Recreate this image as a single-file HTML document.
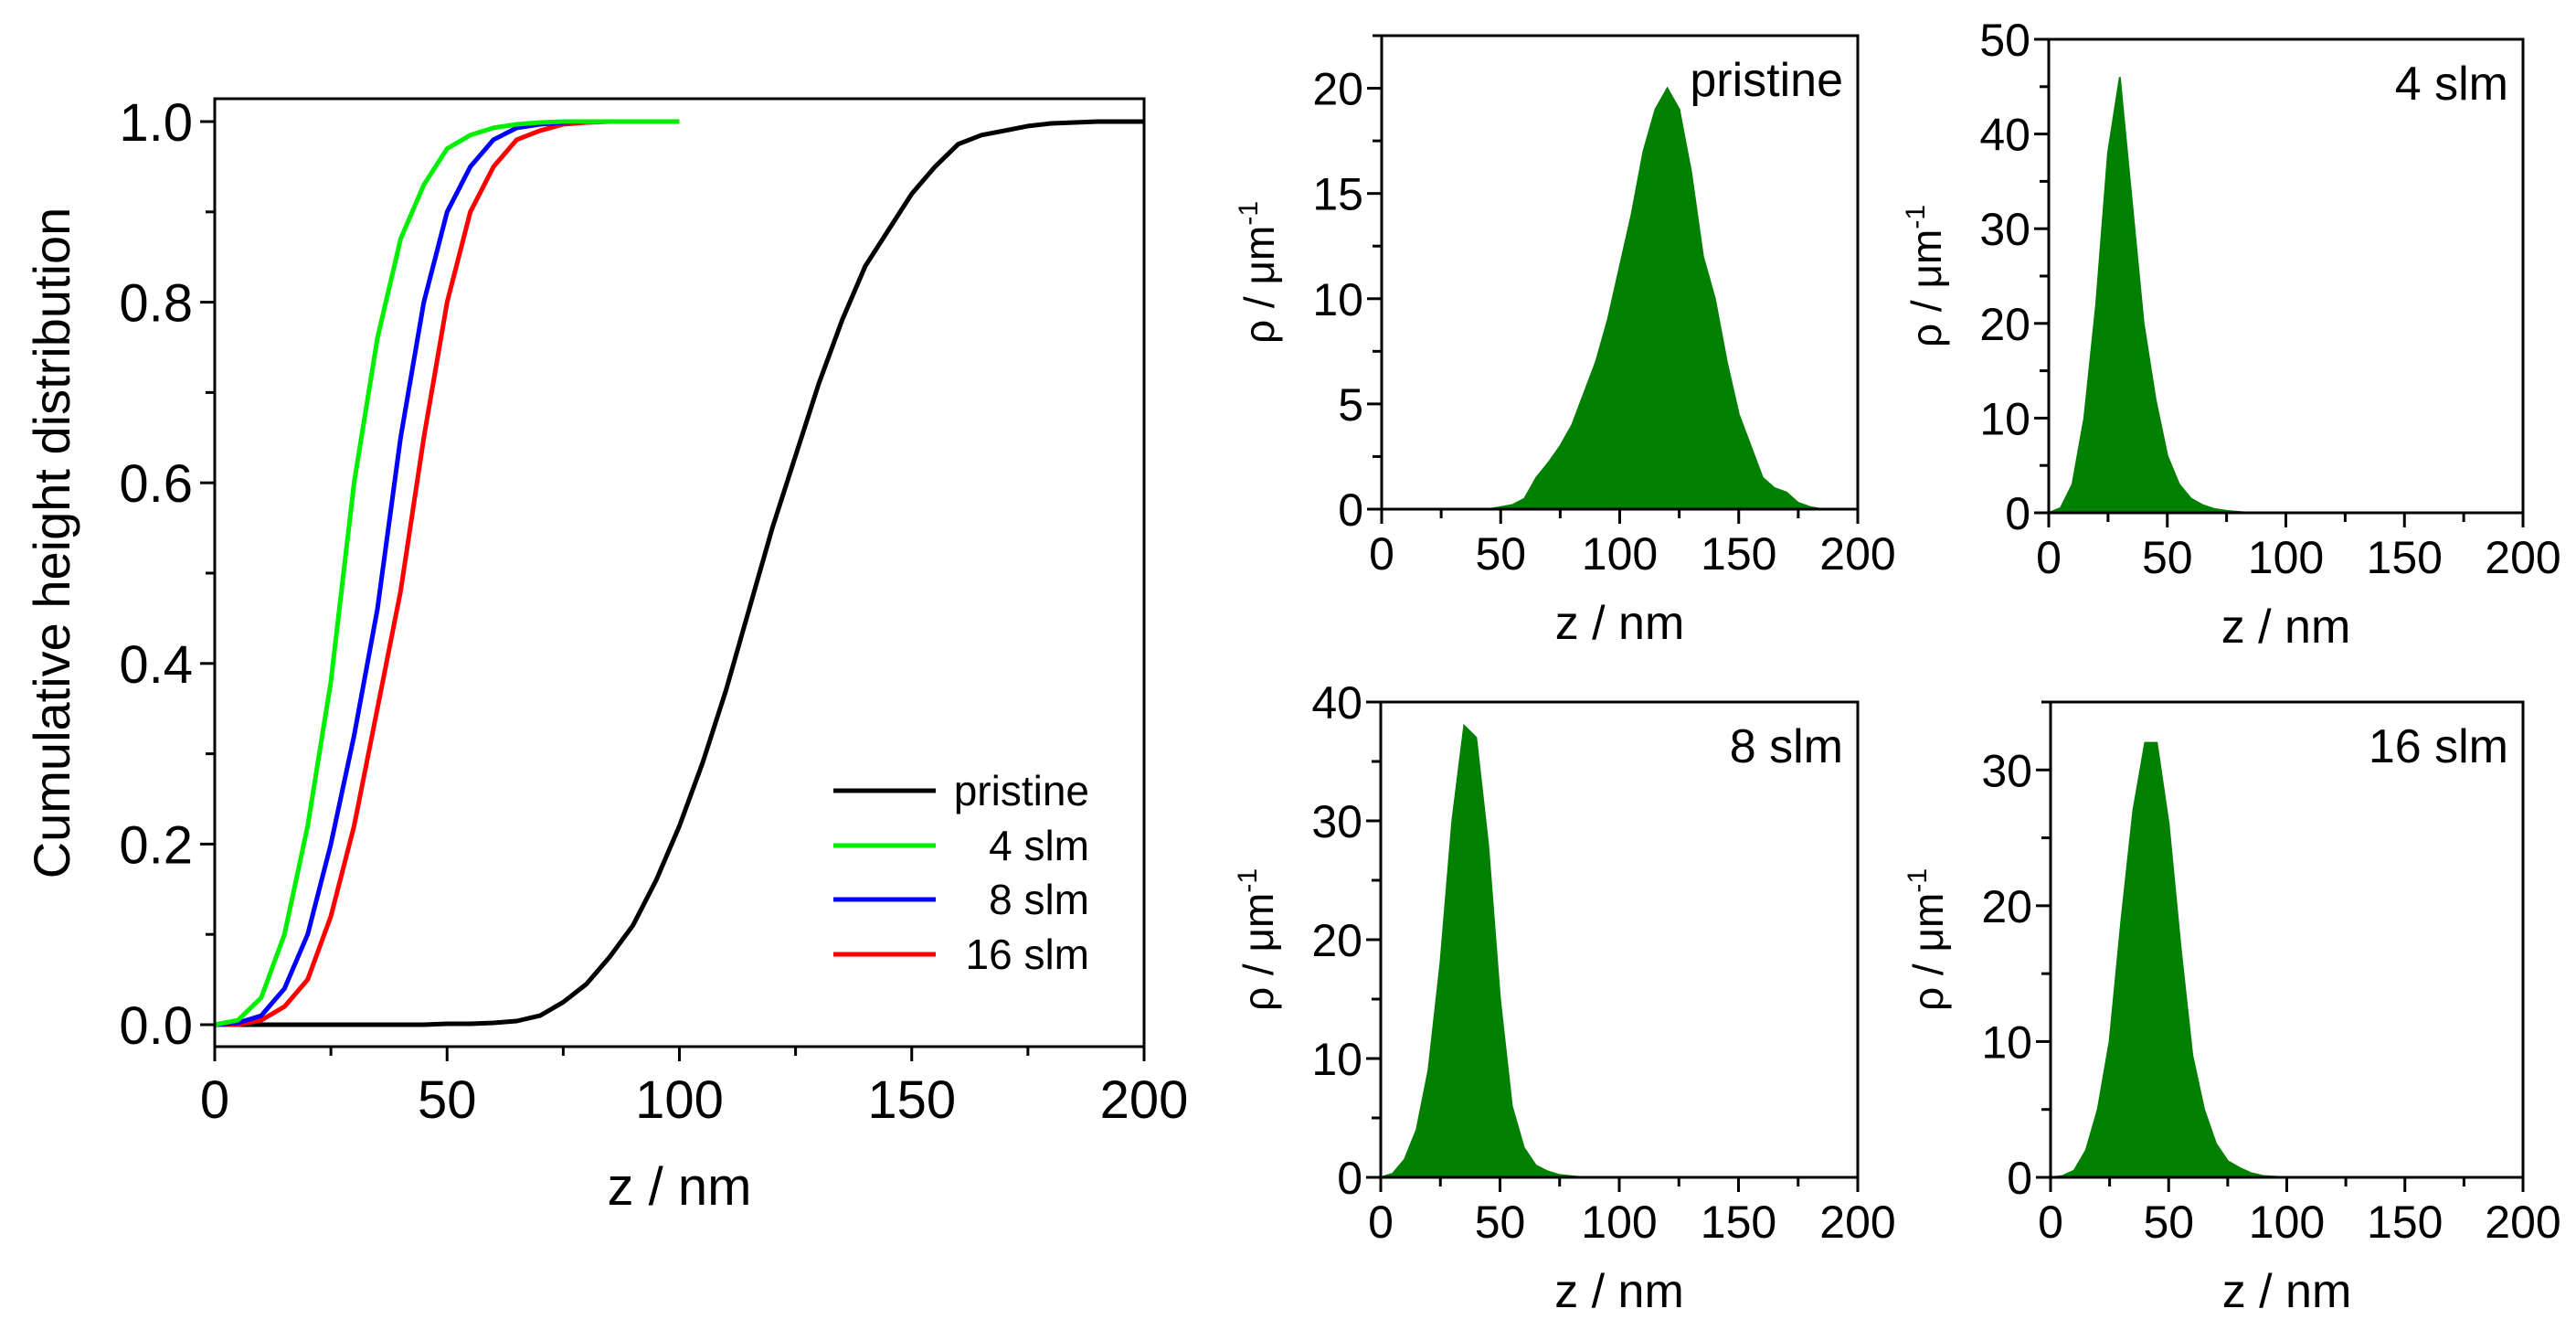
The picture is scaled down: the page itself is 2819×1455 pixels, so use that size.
<!DOCTYPE html>
<html><head><meta charset="utf-8"><style>
html,body{margin:0;padding:0;background:#fff;}
svg{display:block;font-family:"Liberation Sans",Arial,sans-serif;}
</style></head><body>
<svg id="fig" width="2819" height="1455" viewBox="0 0 2819 1455"></svg>
<script>
// ---- data ----
const zGrid = [0,5,10,15,20,25,30,35,40,45,50,55,60,65,70,75,80,85,90,95,100,105,110,115,120,125,130,135,140,145,150,155,160,165,170,175,180,185,190,195,200];
const cdfPristine = [0,0,0,0,0,0,0,0,0,0,0.001,0.001,0.002,0.004,0.01,0.025,0.045,0.075,0.11,0.16,0.22,0.29,0.37,0.46,0.55,0.63,0.71,0.78,0.84,0.88,0.92,0.95,0.975,0.985,0.99,0.995,0.998,0.999,1,1,1];
const cdf4 = [0,0.005,0.03,0.1,0.22,0.38,0.6,0.76,0.87,0.93,0.97,0.985,0.993,0.997,0.999,1,1,1,1,1,1];
const cdf8 = [0,0.002,0.01,0.04,0.1,0.2,0.32,0.46,0.65,0.8,0.9,0.95,0.98,0.993,0.997,0.999,1,1];
const cdf16 = [0,0,0.005,0.02,0.05,0.12,0.22,0.35,0.48,0.65,0.8,0.9,0.95,0.98,0.99,0.997,0.999,1,1];
const histPristine = [0,0,0,0,0,0,0,0,0,0,0.1,0.2,0.5,1.5,2.2,3,4,5.5,7,9,11.5,14,17,19,20,19,16,12,10,7,4.5,3,1.5,1,0.8,0.3,0.1,0,0,0,0];
const hist4 = [0,0.5,3,10,22,38,46,33,20,12,6,3,1.5,0.8,0.4,0.2,0.1,0,0,0,0];
const hist8 = [0,0.3,1.5,4,9,18,30,38,37,28,15,6,2.5,1,0.5,0.2,0.1,0,0,0,0];
const hist16 = [0,0.1,0.5,2,5,10,19,27,32,32,26,17,9,5,2.5,1.2,0.7,0.3,0.1,0.05,0];
const xTicks = [0,50,100,150,200];
const mainYTicks = ["0.0","0.2","0.4","0.6","0.8","1.0"];

const NS="http://www.w3.org/2000/svg";
const svg=document.getElementById('fig');
function mk(tag,attrs,parent){const e=document.createElementNS(NS,tag);for(const k in attrs)e.setAttribute(k,attrs[k]);(parent||svg).appendChild(e);return e;}

function axes(g,L,R,T,B,xmax,ymin,ymax,yMajor,yMinor,yLabels,fs,xTickVals){
  const sx=v=>L+(v/xmax)*(R-L);
  const sy=v=>B-((v-ymin)/(ymax-ymin))*(B-T);
  for(let v=0;v<=xmax+1e-9;v+=25){const x=sx(v);const t=mk('line',{x1:x,x2:x,y1:B,y2:B+(v%50===0?16:10),stroke:'#000','stroke-width':3},g);
    }
  for(let v=ymin;v<=ymax+1e-9;v+=yMinor){const y=sy(v);const maj=Math.abs(v/yMajor-Math.round(v/yMajor))<1e-6;
    const t=mk('line',{x1:L-(maj?16:10),x2:L,y1:y,y2:y,stroke:'#000','stroke-width':3},g);
    }
  xTickVals.forEach(v=>{const t=mk('text',{x:sx(v),y:B+66,'font-size':fs,'text-anchor':'middle'},g);t.textContent=v;
    });
  yLabels.forEach((lab,i)=>{const v=ymin+i*yMajor;const t=mk('text',{x:L-20,y:sy(v)+fs*0.36,'font-size':fs,'text-anchor':'end'},g);t.textContent=lab;
    });
  return {sx,sy};
}
function frame(g,L,R,T,B){const r=mk('rect',{x:L,y:T,width:R-L,height:B-T,fill:'none',stroke:'#000','stroke-width':3},g);
  }

// ---- main CDF plot ----
{
 const g=mk('g',{});
 const L=235,R=1252,T=108,B=1145;
 const y0=1121,y1=133;
 const sx=v=>L+(v/200)*(R-L);
 const sy=v=>y0-v*(y0-y1);
 for(let v=0;v<=200;v+=25){const x=sx(v);const t=mk('line',{x1:x,x2:x,y1:B,y2:B+(v%50===0?16:10),stroke:'#000','stroke-width':3},g);
   }
 for(let i=0;i<=10;i++){const v=i/10;const y=sy(v);const t=mk('line',{x1:L-(i%2===0?16:10),x2:L,y1:y,y2:y,stroke:'#000','stroke-width':3},g);
   }
 xTicks.forEach(v=>{const t=mk('text',{x:sx(v),y:B+78,'font-size':58,'text-anchor':'middle'},g);t.textContent=v;
   });
 mainYTicks.forEach((lab,i)=>{const t=mk('text',{x:L-24,y:sy(i*0.2)+21,'font-size':58,'text-anchor':'end'},g);t.textContent=lab;
   });
 const series=[[cdfPristine,'#000','cdf-pristine'],[cdf16,'#ff0000','cdf-16slm'],[cdf8,'#0000ff','cdf-8slm'],[cdf4,'#00ee00','cdf-4slm']];
 series.forEach(([arr,c,n])=>{const d=arr.map((v,i)=>(i?'L':'M')+sx(zGrid[i]).toFixed(1)+','+sy(v).toFixed(1)).join('');
   const p=mk('path',{d,fill:'none',stroke:c,'stroke-width':5,'stroke-linejoin':'round'},g);
   });
 frame(g,L,R,T,B);
 const xt=mk('text',{x:(L+R)/2,y:1318,'font-size':58,'text-anchor':'middle'},g);xt.textContent='z / nm';
 
 const yt=mk('text',{x:0,y:0,'font-size':56,'text-anchor':'middle',transform:'translate(76,594) rotate(-90)'},g);yt.textContent='Cumulative height distribution';
 
 const leg=[['pristine','#000',865],['4 slm','#00ee00',925],['8 slm','#0000ff',984],['16 slm','#ff0000',1044]];
 leg.forEach(([lab,c,y])=>{const e=mk('g',{},g);
   mk('line',{x1:912,x2:1024,y1:y,y2:y,stroke:c,'stroke-width':5},e);
   const t=mk('text',{x:1192,y:y+16,'font-size':46,'text-anchor':'end'},e);t.textContent=lab;});
}

// ---- histograms ----
const panels=[
 {name:'hist-pristine',data:histPristine,label:'pristine',L:1512,R:2033,T:39,B:557,ymax:22.5,maj:5,min:2.5,labs:['0','5','10','15','20']},
 {name:'hist-4slm',data:hist4,label:'4 slm',L:2242,R:2761,T:43,B:561,ymax:50,maj:10,min:5,labs:['0','10','20','30','40','50']},
 {name:'hist-8slm',data:hist8,label:'8 slm',L:1511,R:2033,T:768,B:1288,ymax:40,maj:10,min:5,labs:['0','10','20','30','40']},
 {name:'hist-16slm',data:hist16,label:'16 slm',L:2244,R:2761,T:768,B:1288,ymax:35,maj:10,min:5,labs:['0','10','20','30']}
];
panels.forEach(P=>{
 const g=mk('g',{});
 const {sx,sy}=axes(g,P.L,P.R,P.T,P.B,200,0,P.ymax,P.maj,P.min,P.labs,50,xTicks);
 let d='M'+sx(0)+','+sy(0);
 P.data.forEach((v,i)=>{d+='L'+sx(zGrid[i]).toFixed(1)+','+sy(v).toFixed(1);});
 d+='L'+sx(zGrid[P.data.length-1])+','+sy(0)+'Z';
 const a=mk('path',{d,fill:'#008000',stroke:'#008000','stroke-width':2},g);
 
 frame(g,P.L,P.R,P.T,P.B);
 const lt=mk('text',{x:P.R-16,y:P.T+66,'font-size':52,'text-anchor':'end'},g);lt.textContent=P.label;
 
 const xt=mk('text',{x:(P.L+P.R)/2,y:P.B+142,'font-size':52,'text-anchor':'middle'},g);xt.textContent='z / nm';
 
 const cy=(P.T+P.B)/2;
 const yt=mk('text',{x:0,y:0,'font-size':46,'text-anchor':'middle',transform:`translate(${P.L-118},${cy}) rotate(-90)`},g);
 
 yt.innerHTML='ρ / μm<tspan dy="-18" font-size="30">-1</tspan>';
});
</script>
</body></html>
